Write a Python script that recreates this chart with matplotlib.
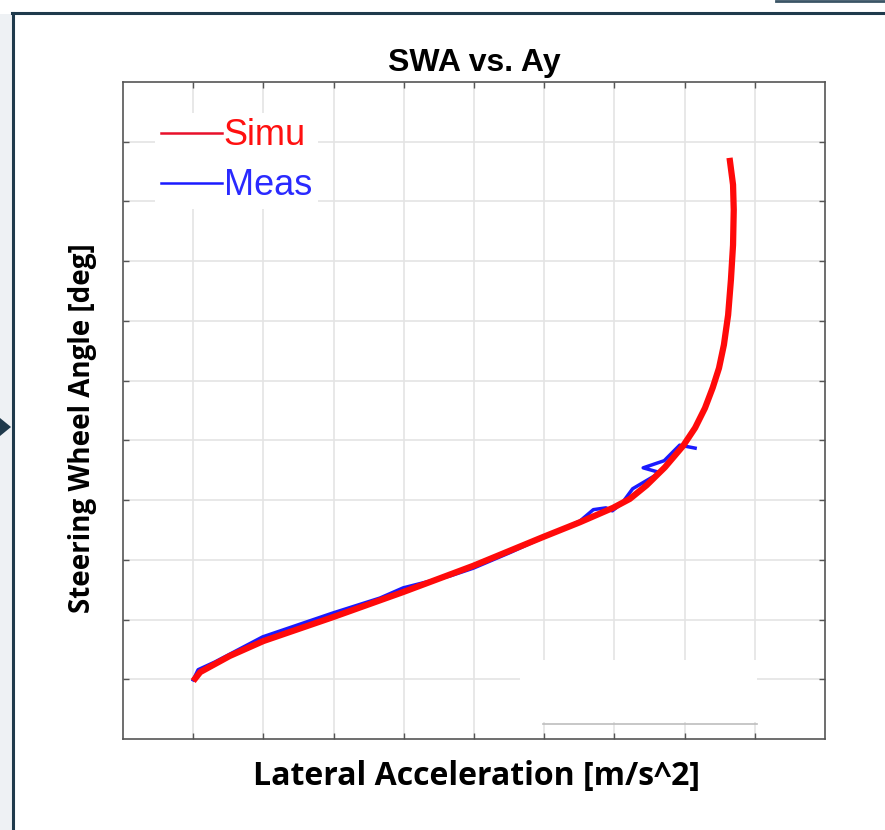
import matplotlib.pyplot as plt
from matplotlib.lines import Line2D
from matplotlib.patches import Rectangle, Polygon

# lateral acceleration [m/s^2] vs steering wheel angle [deg] (axis units as drawn)
ay_simu = [1.00, 1.10, 1.52, 2.00, 2.99, 3.99, 4.99, 5.98, 6.51, 6.98, 7.22,
           7.46, 7.72, 7.98, 8.15, 8.29, 8.40, 8.49, 8.56, 8.62, 8.66, 8.69,
           8.70, 8.69, 8.64]
swa_simu = [0.97, 1.12, 1.39, 1.64, 2.04, 2.46, 2.90, 3.38, 3.63, 3.87, 4.02,
            4.25, 4.55, 4.91, 5.21, 5.54, 5.88, 6.21, 6.60, 7.10, 7.69, 8.27,
            8.86, 9.28, 9.73]

ay_meas = [1.00, 1.07, 1.31, 1.99, 2.99, 3.66, 3.99, 4.66, 4.99, 5.51, 5.98,
           6.18, 6.51, 6.70, 6.88, 6.97, 7.11, 7.26, 7.65, 7.41, 7.71, 7.93,
           8.15]
swa_meas = [0.99, 1.16, 1.29, 1.71, 2.11, 2.36, 2.53, 2.73, 2.86, 3.12, 3.37,
            3.47, 3.65, 3.84, 3.87, 3.82, 3.95, 4.19, 4.46, 4.54, 4.66, 4.92,
            4.87]

x_ticks = list(range(1, 10))
y_ticks = list(range(1, 11))

W, H = 885, 830


def fx(x):
    return x / W


def fy(y):
    return 1 - y / H


fig = plt.figure(figsize=(W / 100, H / 100), dpi=100)
fig.patch.set_facecolor('white')

# screenshot frame around the chart
fig.add_artist(Rectangle((0, 0), fx(12), fy(14), transform=fig.transFigure,
                         facecolor='#eef1f4', edgecolor='none'))
fig.add_artist(Line2D([fx(13), fx(13)], [0, fy(13)], transform=fig.transFigure,
                      color='#1f3a4c', lw=2.2))
fig.add_artist(Line2D([fx(12), 1], [fy(13), fy(13)], transform=fig.transFigure,
                      color='#1f3a4c', lw=2.2))
fig.add_artist(Line2D([fx(776), 1], [fy(1), fy(1)], transform=fig.transFigure,
                      color='#3b5566', lw=2))
fig.add_artist(Polygon([[0, fy(418)], [fx(11), fy(427)], [0, fy(436)]],
                       closed=True, transform=fig.transFigure,
                       facecolor='#1f3a4c', edgecolor='none'))

ax = fig.add_axes([fx(123), fy(739), fx(825) - fx(123), fy(82) - fy(739)])
ax.set_xlim(0, 10)
ax.set_ylim(0, 11)
ax.set_xticks(x_ticks)
ax.set_yticks(y_ticks)
ax.set_xticklabels([])
ax.set_yticklabels([])
ax.tick_params(direction='in', length=4, width=1, color='#555555',
               top=True, right=True)
ax.set_axisbelow(True)
ax.grid(True, color='#e4e4e4', lw=1.2)
for s in ax.spines.values():
    s.set_color('#555555')
    s.set_linewidth(1.2)

# patched-over area at the lower right of the original screenshot
ax.add_patch(Rectangle((5.66, 0.28), 3.37, 1.05, facecolor='white',
                       edgecolor='none', zorder=1))
ax.plot([5.98, 9.03], [0.25, 0.25], color='#bdbdbd', lw=1.2, zorder=1)

ax.plot(ay_meas, swa_meas, color='#1a1aff', lw=2.5, zorder=2)
ax.plot(ay_simu, swa_simu, color='#ff0a0a', lw=4.5, zorder=3,
        solid_capstyle='butt', solid_joinstyle='round')

handles = [Line2D([], [], color='#e8102a', lw=1.8),
           Line2D([], [], color='#1a1aff', lw=1.8)]
leg = ax.legend(handles, ['Simu', 'Meas'], loc='upper left',
                bbox_to_anchor=(0.046, 0.953), borderaxespad=0,
                prop={'family': 'Liberation Sans', 'size': 26},
                labelcolor=['#ff1010', '#2a2aff'], handlelength=1.7,
                handletextpad=0.05, labelspacing=0.42, borderpad=0.15,
                frameon=True, fancybox=False, framealpha=1)
leg.get_frame().set_edgecolor('none')
leg.get_frame().set_facecolor('white')

ax.set_title('SWA vs. Ay', fontsize=23, fontweight='bold',
             family='Liberation Sans', pad=8)
ax.set_xlabel('Lateral Acceleration [m/s^2]', fontsize=23, fontweight='bold',
              family='Open Sans')
ax.set_ylabel('Steering Wheel Angle [deg]', fontsize=20, fontweight='bold',
              family='Open Sans')
ax.xaxis.set_label_coords(0.503, -0.032)
ax.yaxis.set_label_coords(-0.037, 0.473)

fig.savefig('out.png', dpi=100)
